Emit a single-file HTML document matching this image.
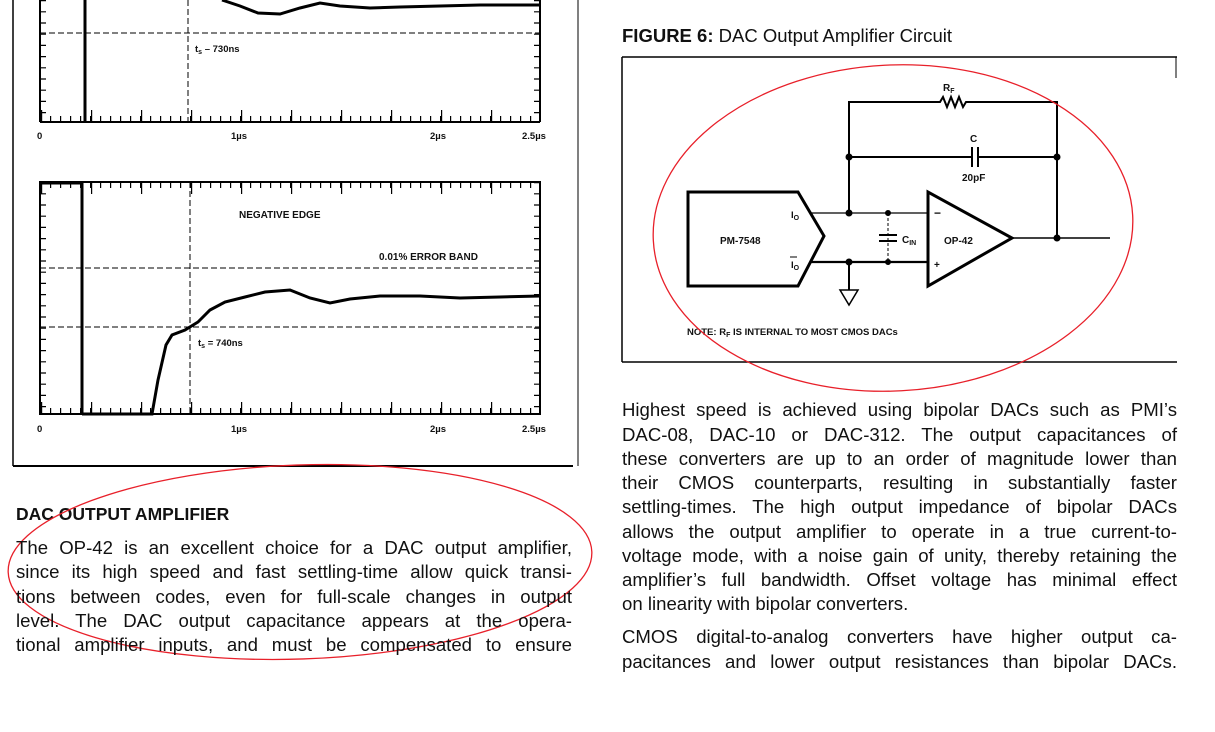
<!DOCTYPE html>
<html><head><meta charset="utf-8"><style>
html,body{margin:0;padding:0;background:#fff;width:1215px;height:732px;overflow:hidden;position:relative}
.t{position:absolute;font-family:"Liberation Sans",sans-serif;font-size:18.6px;color:#111;white-space:nowrap;text-align:justify;text-align-last:justify;height:20px;line-height:20px}
.l{left:16px;width:556px}
.r{left:622px;width:555px}
.nl{text-align-last:left}
svg{position:absolute;left:0;top:0}
</style></head><body>
<svg width="1215" height="732" viewBox="0 0 1215 732" font-family="Liberation Sans, sans-serif">
<g stroke="#000" fill="none">
<line x1="13" y1="0" x2="13" y2="466" stroke-width="1.5"/>
<line x1="13" y1="466" x2="573" y2="466" stroke-width="2"/>
<line x1="578" y1="0" x2="578" y2="466" stroke-width="1"/>
<line x1="40" y1="0" x2="40" y2="122" stroke-width="2"/>
<line x1="540" y1="0" x2="540" y2="122" stroke-width="2"/>
<line x1="40" y1="122" x2="540" y2="122" stroke-width="2"/>
<line x1="40" y1="119" x2="540" y2="119" stroke-width="6" stroke-dasharray="1.2 8.8"/>
<line x1="40" y1="116" x2="540" y2="116" stroke-width="12" stroke-dasharray="1.2 48.8" stroke-dashoffset="-1"/>
<line x1="43" y1="0" x2="43" y2="122" stroke-width="6" stroke-dasharray="1.2 10"/>
<line x1="537" y1="0" x2="537" y2="122" stroke-width="6" stroke-dasharray="1.2 10"/>
<line x1="85" y1="0" x2="85" y2="122" stroke-width="3"/>
<line x1="40" y1="33" x2="540" y2="33" stroke-width="1" stroke-dasharray="6 3"/>
<line x1="188" y1="0" x2="188" y2="122" stroke-width="1" stroke-dasharray="6 3"/>
<path d="M222 0 L240 6 L258 13 L280 14 L300 8 L320 3 L340 6 L370 8 L400 7 L440 6 L480 5 L540 5" stroke-width="3"/>
<rect x="40" y="182" width="500" height="232" stroke-width="2"/>
<line x1="40" y1="183" x2="82" y2="183" stroke-width="3"/>
<line x1="40" y1="411" x2="540" y2="411" stroke-width="6" stroke-dasharray="1.2 8.8"/>
<line x1="40" y1="408" x2="540" y2="408" stroke-width="12" stroke-dasharray="1.2 48.8" stroke-dashoffset="-1"/>
<line x1="40" y1="185" x2="540" y2="185" stroke-width="6" stroke-dasharray="1.2 8.8"/>
<line x1="40" y1="188" x2="540" y2="188" stroke-width="12" stroke-dasharray="1.2 48.8" stroke-dashoffset="-1"/>
<line x1="43" y1="182" x2="43" y2="414" stroke-width="6" stroke-dasharray="1.2 10"/>
<line x1="537" y1="182" x2="537" y2="414" stroke-width="6" stroke-dasharray="1.2 10"/>
<line x1="82" y1="182" x2="82" y2="414" stroke-width="3"/>
<line x1="40" y1="268" x2="540" y2="268" stroke-width="1" stroke-dasharray="6 3"/>
<line x1="40" y1="327" x2="540" y2="327" stroke-width="1" stroke-dasharray="6 3"/>
<line x1="190" y1="182" x2="190" y2="414" stroke-width="1" stroke-dasharray="6 3"/>
<path d="M82 414 L152 414 L158 380 L166 345 L172 335 L185 330 L198 322 L210 310 L225 302 L245 297 L265 292 L290 290 L310 298 L330 303 L350 299 L380 296 L420 296 L460 298 L500 297 L540 296" stroke-width="3"/>
<line x1="622" y1="57" x2="1177" y2="57" stroke-width="1.5"/>
<line x1="622" y1="57" x2="622" y2="362" stroke-width="1.5"/>
<line x1="622" y1="362" x2="1177" y2="362" stroke-width="1.5"/>
<line x1="1176" y1="57" x2="1176" y2="78" stroke-width="1"/>
<polygon points="688,192 798,192 824,236 798,286 688,286" stroke-width="3"/>
<line x1="810" y1="213" x2="928" y2="213" stroke-width="1.3"/>
<line x1="810" y1="262" x2="928" y2="262" stroke-width="2.2"/>
<polygon points="928,192 928,286 1012,238" stroke-width="3"/>
<line x1="1012" y1="238" x2="1110" y2="238" stroke-width="1.5"/>
<path d="M849 213 V102 H940 l3 -5 l4 10 l4 -10 l4 10 l4 -10 l4 10 l3 -5 H1057 V238" stroke-width="2"/>
<line x1="849" y1="157" x2="972" y2="157" stroke-width="2"/>
<line x1="978" y1="157" x2="1057" y2="157" stroke-width="2"/>
<line x1="972" y1="147" x2="972" y2="167" stroke-width="2"/>
<line x1="978" y1="147" x2="978" y2="167" stroke-width="2"/>
<line x1="888" y1="213" x2="888" y2="262" stroke-width="1" stroke-dasharray="3 2"/>
<line x1="879" y1="235" x2="897" y2="235" stroke-width="2"/>
<line x1="879" y1="241" x2="897" y2="241" stroke-width="2"/>
<line x1="849" y1="262" x2="849" y2="290" stroke-width="2"/>
<polygon points="840,290 858,290 849,305" stroke-width="1.5"/>
<line x1="790" y1="257" x2="797" y2="257" stroke-width="1"/>
</g>
<g fill="#000">
<circle cx="849" cy="213" r="3.5"/><circle cx="888" cy="213" r="3"/>
<circle cx="849" cy="262" r="3.5"/><circle cx="888" cy="262" r="3"/>
<circle cx="849" cy="157" r="3.5"/><circle cx="1057" cy="157" r="3.5"/>
<circle cx="1057" cy="238" r="3.5"/>
</g>
<g fill="#111" font-weight="bold" font-size="9.5">
<text x="195" y="52">t<tspan font-size="7" dy="2">s</tspan><tspan dy="-2"> – 730ns</tspan></text>
<text x="37" y="139">0</text><text x="231" y="139">1µs</text><text x="430" y="139">2µs</text><text x="522" y="139">2.5µs</text>
<text x="239" y="218" font-size="10">NEGATIVE EDGE</text>
<text x="379" y="260" font-size="10">0.01% ERROR BAND</text>
<text x="198" y="346">t<tspan font-size="7" dy="2">s</tspan><tspan dy="-2"> = 740ns</tspan></text>
<text x="37" y="432">0</text><text x="231" y="432">1µs</text><text x="430" y="432">2µs</text><text x="522" y="432">2.5µs</text>
<text x="720" y="244" font-size="10">PM-7548</text>
<text x="791" y="218" font-size="9.5">I<tspan font-size="7" dy="2">O</tspan></text>
<text x="791" y="268" font-size="9.5">I<tspan font-size="7" dy="2">O</tspan></text>
<text x="902" y="243" font-size="10">C<tspan font-size="7" dy="2">IN</tspan></text>
<text x="944" y="244" font-size="10">OP-42</text>
<text x="934" y="217" font-size="12">−</text>
<text x="934" y="268" font-size="10">+</text>
<text x="943" y="91" font-size="10">R<tspan font-size="7" dy="2">F</tspan></text>
<text x="970" y="142" font-size="10">C</text>
<text x="962" y="181" font-size="10">20pF</text>
<text x="687" y="335" font-size="9.5">NOTE: R<tspan font-size="7" dy="2">F</tspan><tspan dy="-2"> IS INTERNAL TO MOST CMOS DACs</tspan></text>
</g>
<text x="622" y="42" font-size="18.5" fill="#111"><tspan font-weight="bold">FIGURE 6:</tspan> DAC Output Amplifier Circuit</text>
<text x="16" y="520" font-size="17.5" font-weight="bold" fill="#111">DAC OUTPUT AMPLIFIER</text>
<g fill="none" stroke="#e8202a" stroke-width="1.3">
<ellipse cx="893" cy="228" rx="240" ry="163" transform="rotate(-3 893 228)"/>
<ellipse cx="300" cy="562" rx="292" ry="97" transform="rotate(-2 300 562)"/>
</g>
</svg>
<div class="t l" style="top:538px">The OP-42 is an excellent choice for a DAC output amplifier,</div>
<div class="t l" style="top:562px">since its high speed and fast settling-time allow quick transi-</div>
<div class="t l" style="top:587px">tions between codes, even for full-scale changes in output</div>
<div class="t l" style="top:611px">level. The DAC output capacitance appears at the opera-</div>
<div class="t l" style="top:635px">tional amplifier inputs, and must be compensated to ensure</div>
<div class="t r" style="top:400px">Highest speed is achieved using bipolar DACs such as PMI’s</div>
<div class="t r" style="top:425px">DAC-08, DAC-10 or DAC-312. The output capacitances of</div>
<div class="t r" style="top:449px">these converters are up to an order of magnitude lower than</div>
<div class="t r" style="top:473px">their CMOS counterparts, resulting in substantially faster</div>
<div class="t r" style="top:497px">settling-times. The high output impedance of bipolar DACs</div>
<div class="t r" style="top:522px">allows the output amplifier to operate in a true current-to-</div>
<div class="t r" style="top:546px">voltage mode, with a noise gain of unity, thereby retaining the</div>
<div class="t r" style="top:570px">amplifier’s full bandwidth. Offset voltage has minimal effect</div>
<div class="t r nl" style="top:594px">on linearity with bipolar converters.</div>
<div class="t r" style="top:627px">CMOS digital-to-analog converters have higher output ca-</div>
<div class="t r" style="top:652px">pacitances and lower output resistances than bipolar DACs.</div>
</body></html>
